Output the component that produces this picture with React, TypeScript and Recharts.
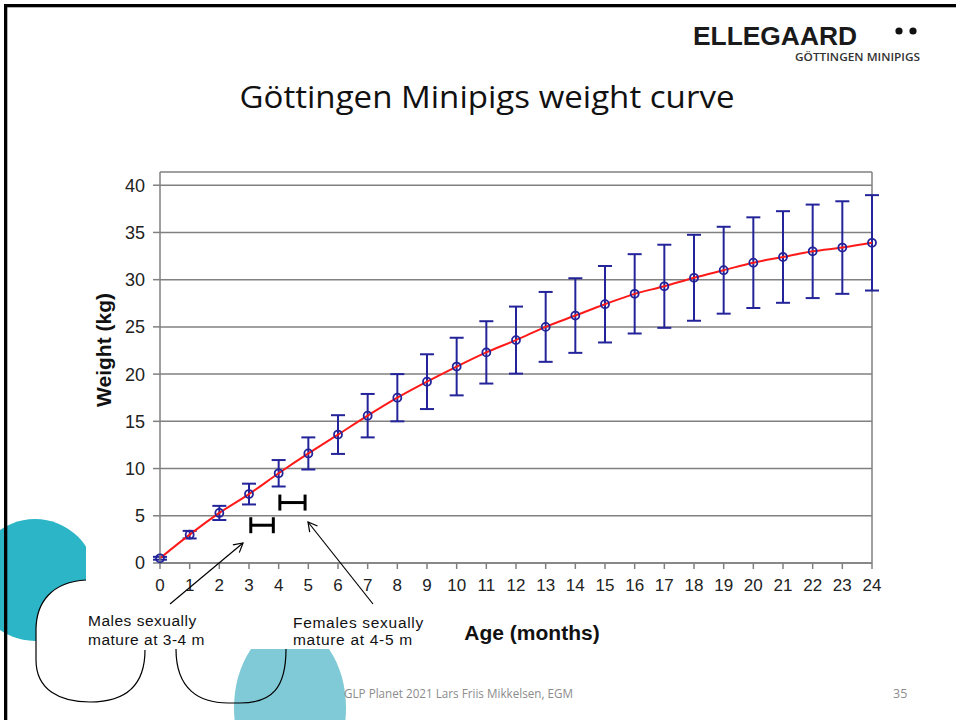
import { ComposedChart, Line, Scatter, ErrorBar, XAxis, YAxis, CartesianGrid, ReferenceLine } from 'recharts';

// mean body weight (kg) and SD by age in months
const months = [0, 1, 2, 3, 4, 5, 6, 7, 8, 9, 10, 11, 12, 13, 14, 15, 16, 17, 18, 19, 20, 21, 22, 23, 24];
const meanWeight = [0.5, 3.0, 5.3, 7.3, 9.5, 11.6, 13.6, 15.6, 17.5, 19.2, 20.8, 22.3, 23.6, 25.0, 26.2, 27.4, 28.5, 29.3, 30.2, 31.0, 31.8, 32.4, 33.0, 33.4, 33.9];
const sdWeight = [0.15, 0.4, 0.75, 1.1, 1.4, 1.7, 2.05, 2.3, 2.5, 2.9, 3.05, 3.3, 3.55, 3.7, 3.95, 4.05, 4.2, 4.4, 4.55, 4.6, 4.8, 4.85, 4.95, 4.9, 5.05];
const yTicks = [0, 5, 10, 15, 20, 25, 30, 35, 40];

// sexual maturity windows (months) drawn as range bars
const maturityFrom = [3.06, 4.04];
const maturityTo = [3.82, 4.89];
const maturityLevel = [4.0, 6.4];

const data = months.map((m, i) => ({ month: m, weight: meanWeight[i], sd: sdWeight[i] }));
const ranges = maturityFrom.map((f, i) => ({
  month: (f + maturityTo[i]) / 2,
  weight: maturityLevel[i],
  half: (maturityTo[i] - f) / 2,
}));

const NAVY = '#23239a';
const GRID = '#808080';
const FONT = '"Liberation Sans", Arial, sans-serif';

export default function App() {
  return (
    <div style={{ position: 'absolute', left: 0, top: 0, width: 956, height: 720, background: '#fff', overflow: 'hidden' }}>
      {/* slide decorations underneath */}
      <svg width={956} height={720} style={{ position: 'absolute', left: 0, top: 0 }}>
        <defs>
          <clipPath id="leftCut">
            <rect x={0} y={0} width={86} height={720} />
          </clipPath>
          <clipPath id="bottomCut">
            <rect x={0} y={649} width={956} height={80} />
          </clipPath>
        </defs>
        <circle cx={35} cy={580} r={61} fill="#2bb5c7" clipPath="url(#leftCut)" />
        <ellipse cx={290} cy={708} rx={56} ry={82} fill="#80c9d6" clipPath="url(#bottomCut)" />
        <path d="M86,580 C52,582 36,602 36,630 L36,660 C36,690 60,702 90,702 C120,702 145,690 145,650 L145,580 Z" fill="#fff" />
        <path d="M86,580 C52,582 36,602 36,630 L36,660 C36,690 60,702 90,702 C120,702 145,690 145,650" fill="none" stroke="#000" strokeWidth={1.2} />
        <path d="M176,649 C176,690 200,703 228,703 L240,703 C272,703 286,688 286,649" fill="none" stroke="#000" strokeWidth={1.2} />
        <rect x={4} y={4} width={952} height={3.3} fill="#000" />
        <rect x={4} y={4} width={3.3} height={716} fill="#000" />
      </svg>

      <div style={{ position: 'absolute', left: 0, top: 0 }}>
        <ComposedChart
          width={956}
          height={720}
          data={data}
          margin={{ top: 172, right: 84, bottom: 127, left: 100 }}
        >
          <CartesianGrid vertical={false} stroke={GRID} strokeWidth={1.5} />
          <XAxis
            type="number"
            dataKey="month"
            domain={[0, 24]}
            ticks={months}
            interval={0}
            height={30}
            stroke={GRID}
            strokeWidth={1.5}
            tickSize={6}
            tickMargin={10}
            tick={{ fontSize: 17, fill: '#222', fontFamily: FONT }}
          />
          <YAxis
            type="number"
            domain={[0, 41.4]}
            ticks={yTicks}
            interval={0}
            width={60}
            stroke={GRID}
            strokeWidth={1.5}
            tickSize={7}
            tickMargin={8}
            tick={{ fontSize: 18, fill: '#222', fontFamily: FONT }}
          />
          <ReferenceLine x={24} stroke={GRID} strokeWidth={1.5} ifOverflow="visible" />
          <Line
            type="monotone"
            dataKey="weight"
            stroke="#ff1a1a"
            strokeWidth={2}
            dot={{ r: 4, stroke: NAVY, strokeWidth: 1.8, fill: 'none' }}
            activeDot={false}
            isAnimationActive={false}
          >
            <ErrorBar dataKey="sd" direction="y" width={7} stroke={NAVY} strokeWidth={2} isAnimationActive={false} />
          </Line>
          <Scatter data={ranges} dataKey="weight" shape={() => <g />} isAnimationActive={false}>
            <ErrorBar dataKey="half" direction="x" width={8} stroke="#000" strokeWidth={3} isAnimationActive={false} />
          </Scatter>
        </ComposedChart>
      </div>

      {/* titles, logo, annotations */}
      <svg width={956} height={720} style={{ position: 'absolute', left: 0, top: 0, pointerEvents: 'none' }}>
        <defs>
          <marker id="arrow" markerWidth={12} markerHeight={12} refX={10} refY={6} orient="auto" markerUnits="userSpaceOnUse">
            <path d="M1,1 L10,6 L1,11" fill="none" stroke="#000" strokeWidth={1.2} />
          </marker>
        </defs>
        <text x={693} y={45} fontFamily={FONT} fontWeight="bold" fontSize={25} fill="#1a1a1a" textLength={164} lengthAdjust="spacingAndGlyphs">ELLEGAARD</text>
        <circle cx={899} cy={31} r={3.6} fill="#111" />
        <circle cx={913} cy={31} r={3.6} fill="#111" />
        <text x={795} y={61} fontFamily='"Open Sans", sans-serif' fontWeight={600} fontSize={10.5} fill="#333" textLength={125} lengthAdjust="spacingAndGlyphs">GÖTTINGEN MINIPIGS</text>
        <text x={487} y={108} textAnchor="middle" fontFamily='"Open Sans", sans-serif' fontSize={31} fill="#111" textLength={495} lengthAdjust="spacingAndGlyphs">Göttingen Minipigs weight curve</text>

        <text x={103} y={350} transform="rotate(-90,103,350)" textAnchor="middle" dominantBaseline="central" fontFamily={FONT} fontWeight="bold" fontSize={21} fill="#111">Weight (kg)</text>
        <text x={532} y={640} textAnchor="middle" fontFamily={FONT} fontWeight="bold" fontSize={21} fill="#111">Age (months)</text>

        <line x1={170} y1={604} x2={243} y2={543} stroke="#000" strokeWidth={1.2} markerEnd="url(#arrow)" />
        <line x1={373} y1={604} x2={308} y2={522} stroke="#000" strokeWidth={1.2} markerEnd="url(#arrow)" />

        <text fontFamily={FONT} fontSize={15.5} fill="#111" letterSpacing={0.5}>
          <tspan x={88} y={626}>Males sexually</tspan>
          <tspan x={88} y={645}>mature at 3-4 m</tspan>
        </text>
        <text fontFamily={FONT} fontSize={15.5} fill="#111" letterSpacing={0.7}>
          <tspan x={293} y={628}>Females sexually</tspan>
          <tspan x={293} y={645}>mature at 4-5 m</tspan>
        </text>

        <text x={344} y={698} fontFamily='"Open Sans", sans-serif' fontSize={12.5} fill="#8c8c8c" textLength={229} lengthAdjust="spacingAndGlyphs">GLP Planet 2021 Lars Friis Mikkelsen, EGM</text>
        <text x={893} y={698} fontFamily='"Open Sans", sans-serif' fontSize={12.5} fill="#8c8c8c">35</text>
      </svg>
    </div>
  );
}
